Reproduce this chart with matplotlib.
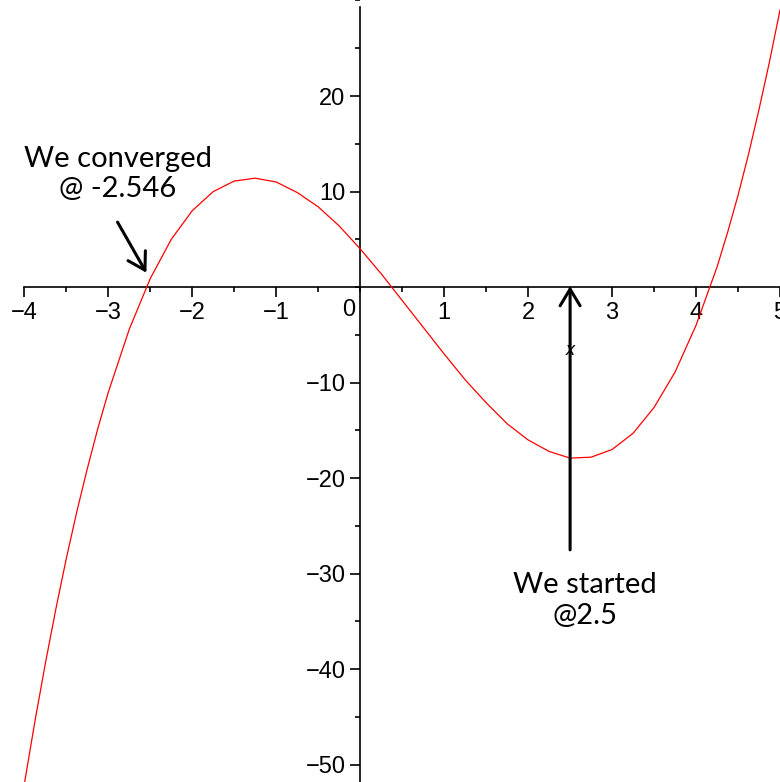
import matplotlib.pyplot as plt
from matplotlib.ticker import MultipleLocator, FixedLocator

xs = [-4.0, -3.875, -3.75, -3.625, -3.5, -3.375, -3.25, -3.125, -3.0, -2.75,
      -2.5, -2.25, -2.0, -1.75, -1.5, -1.25, -1.0, -0.75, -0.5, -0.25, 0.0,
      0.25, 0.5, 0.75, 1.0, 1.25, 1.5, 1.75, 2.0, 2.25, 2.5, 2.75, 3.0, 3.25,
      3.5, 3.75, 4.0, 4.25, 4.375, 4.5, 4.625, 4.75, 4.875, 5.0]
ys = [-52.0, -45.5, -39.4, -33.7, -28.4, -23.5, -19.0, -14.8, -11.0, -4.4,
      0.9, 5.0, 8.0, 10.0, 11.1, 11.4, 11.0, 9.9, 8.4, 6.4, 4.0,
      1.4, -1.4, -4.2, -7.0, -9.7, -12.1, -14.3, -16.0, -17.2, -17.9, -17.8, -17.0, -15.3,
      -12.6, -8.9, -4.0, 2.1, 5.7, 9.6, 13.9, 18.6, 23.6, 29.0]

x_ticks = [-4, -3, -2, -1, 1, 2, 3, 4, 5]
y_ticks = [-50, -40, -30, -20, -10, 10, 20]

start_x = 2.5
root_x = -2.546

tick_font = ['Liberation Sans Narrow', 'Liberation Sans', 'DejaVu Sans']
note_font = ['Lato', 'DejaVu Sans']

fig = plt.figure(figsize=(7.8, 7.82), dpi=100)
ax = fig.add_axes([0, 0, 1, 1])

ax.plot(xs, ys, color='#ff0000', lw=0.9, zorder=3)

ax.set_xlim(-4.29, 5.0)
ax.set_ylim(-51.8, 30.05)

# axes through the origin, maple style
for side in ['top', 'right']:
    ax.spines[side].set_visible(False)
ax.spines['left'].set_position(('data', 0))
ax.spines['bottom'].set_position(('data', 0))
ax.spines['left'].set_bounds(-52, 29.3)
ax.spines['bottom'].set_bounds(-4, 5)
for side in ['left', 'bottom']:
    ax.spines[side].set_linewidth(1.2)

ax.xaxis.set_major_locator(FixedLocator(x_ticks))
ax.xaxis.set_minor_locator(MultipleLocator(0.5))
ax.yaxis.set_major_locator(FixedLocator(y_ticks))
ax.yaxis.set_minor_locator(MultipleLocator(5))
ax.set_xticklabels(['\u2212%d' % -t if t < 0 else str(t) for t in x_ticks])
ax.set_yticklabels(['\u2212%d' % -t if t < 0 else str(t) for t in y_ticks])

ax.tick_params(which='major', length=7.5, width=1.2, direction='out', pad=3,
               labelsize=17)
ax.tick_params(which='minor', length=3.6, width=1.2, direction='out')
ax.tick_params(axis='y', which='major', pad=3)
for lab in ax.get_xticklabels() + ax.get_yticklabels():
    lab.set_family(tick_font)

ax.text(-0.14, -2.4, '0', ha='center', va='center', fontsize=17,
        family=tick_font)
ax.text(start_x, -6.6, 'x', ha='center', va='center', fontsize=13,
        style='italic', family=tick_font, zorder=1)

arrow = dict(arrowstyle='->,head_length=0.4,head_width=0.24', lw=2.2,
             color='black', mutation_scale=30, shrinkA=0, shrinkB=0)

ax.annotate('', xy=(root_x, 1.5), xytext=(-2.89, 6.8), arrowprops=arrow,
            zorder=4)
ax.text(-2.89, 11.8, 'We converged\n@ -2.546', ha='center', va='center',
        fontsize=21, family=note_font, linespacing=1.2)

ax.annotate('', xy=(start_x, 0.1), xytext=(start_x, -27.5), arrowprops=arrow,
            zorder=4)
ax.text(2.68, -32.8, 'We started\n@2.5', ha='center', va='center',
        fontsize=21, family=note_font, linespacing=1.2)

fig.savefig('out.png', dpi=100)
